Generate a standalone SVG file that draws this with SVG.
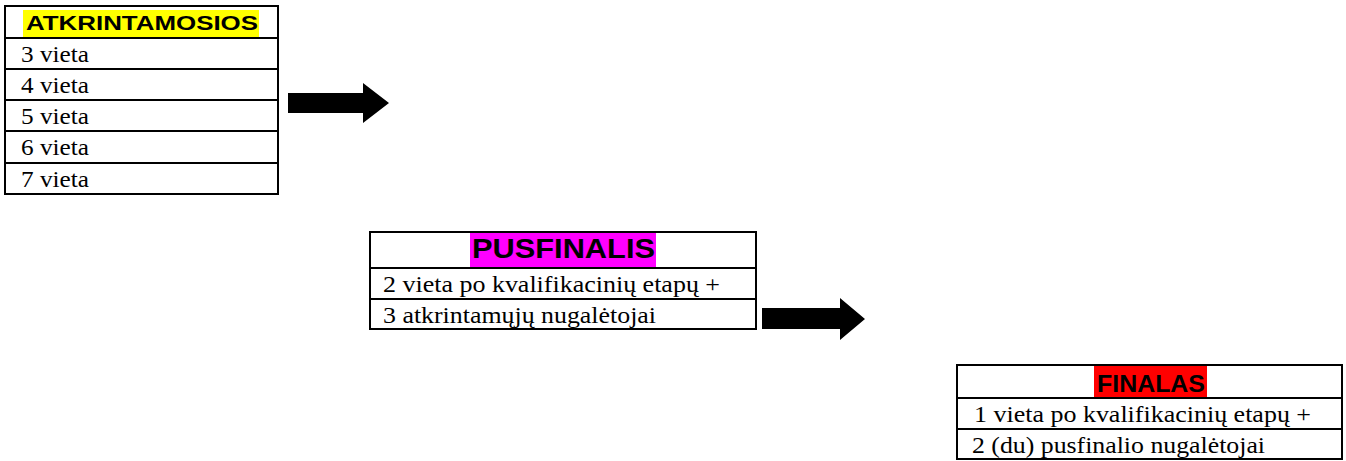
<svg xmlns="http://www.w3.org/2000/svg" width="1346" height="461" viewBox="0 0 1346 461">
<style>
.box{fill:#fff;stroke:#000;stroke-width:2}
.ln{stroke:#000;stroke-width:2}
.arr{fill:#000}
</style>
<rect width="1346" height="461" fill="#fff"/>
<g id="atkrintamosios">
<rect class="box" x="5" y="6" width="273" height="188"/>
<line class="ln" x1="5" y1="38" x2="278" y2="38"/>
<line class="ln" x1="5" y1="69" x2="278" y2="69"/>
<line class="ln" x1="5" y1="100" x2="278" y2="100"/>
<line class="ln" x1="5" y1="131" x2="278" y2="131"/>
<line class="ln" x1="5" y1="163" x2="278" y2="163"/>
<rect x="23" y="10" width="236" height="27" fill="#ffff00"/>
<text font-family="'Liberation Sans', Arial, sans-serif" font-weight="bold" x="26" y="30" font-size="21" textLength="232" lengthAdjust="spacingAndGlyphs">ATKRINTAMOSIOS</text>
<g font-family="'Liberation Serif', 'Times New Roman', serif" font-size="24">
<text x="21" y="62" textLength="68" lengthAdjust="spacingAndGlyphs">3 vieta</text>
<text x="21" y="93" textLength="68" lengthAdjust="spacingAndGlyphs">4 vieta</text>
<text x="21" y="124" textLength="68" lengthAdjust="spacingAndGlyphs">5 vieta</text>
<text x="21" y="155" textLength="68" lengthAdjust="spacingAndGlyphs">6 vieta</text>
<text x="21" y="187" textLength="68" lengthAdjust="spacingAndGlyphs">7 vieta</text>
</g>
</g>
<g id="pusfinalis">
<rect class="box" x="370" y="232" width="386" height="97"/>
<line class="ln" x1="370" y1="268" x2="756" y2="268"/>
<line class="ln" x1="370" y1="299" x2="756" y2="299"/>
<rect x="470" y="233" width="186" height="34" fill="#ff00ff"/>
<text font-family="'Liberation Sans', Arial, sans-serif" font-weight="bold" x="472" y="258" font-size="28" textLength="183" lengthAdjust="spacingAndGlyphs">PUSFINALIS</text>
<g font-family="'Liberation Serif', 'Times New Roman', serif" font-size="24">
<text x="383" y="292" textLength="337" lengthAdjust="spacingAndGlyphs">2 vieta po kvalifikacinių etapų +</text>
<text x="383" y="323" textLength="273" lengthAdjust="spacingAndGlyphs">3 atkrintamųjų nugalėtojai</text>
</g>
</g>
<g id="finalas">
<rect class="box" x="957" y="365" width="385" height="94"/>
<line class="ln" x1="957" y1="398" x2="1342" y2="398"/>
<line class="ln" x1="957" y1="429" x2="1342" y2="429"/>
<rect x="1094" y="366" width="113" height="31" fill="#ff0000"/>
<text font-family="'Liberation Sans', Arial, sans-serif" font-weight="bold" x="1097" y="392" font-size="24" textLength="108" lengthAdjust="spacingAndGlyphs">FINALAS</text>
<g font-family="'Liberation Serif', 'Times New Roman', serif" font-size="24">
<text x="974" y="422" textLength="337" lengthAdjust="spacingAndGlyphs">1 vieta po kvalifikacinių etapų +</text>
<text x="972" y="453" textLength="293" lengthAdjust="spacingAndGlyphs">2 (du) pusfinalio nugalėtojai</text>
</g>
</g>
<g id="connectors">
<polygon class="arr" points="288,93 363,93 363,83 389,103 363,123 363,113 288,113"/>
<polygon class="arr" points="762,308 840,308 840,298 865,319 840,340 840,329 762,329"/>
</g>
</svg>
